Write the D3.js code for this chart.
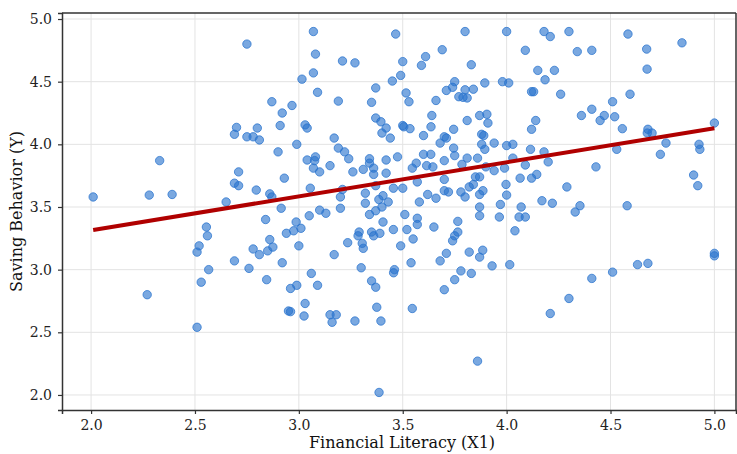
<!DOCTYPE html>
<html>
<head>
<meta charset="utf-8">
<script src="https://cdn.jsdelivr.net/npm/d3@7"></script>
<style>
  body { margin: 0; background: #fff; }
  text { font-family: "DejaVu Serif", serif; }
</style>
</head>
<body>
<div id="chart"></div>
<script>
// Financial literacy (X1) values
var litX = [
  2.75, 3.07, 3.08, 3.21, 3.27, 3.466, 3.50, 3.07, 3.015, 3.09, 3.45, 3.49, 3.37, 2.87, 3.19, 3.35,
  2.967, 2.92, 3.37, 3.395, 3.42, 3.40, 3.44, 2.70, 2.69, 2.80, 2.75, 2.78, 2.81, 2.91, 3.03, 3.04,
  2.99, 3.17,
  3.80, 4.00, 4.18, 4.21, 4.30, 3.69, 3.61, 3.59, 3.83, 4.09, 4.15, 4.23, 4.185, 4.26, 4.12, 4.13,
  3.895, 3.98, 4.01, 3.75, 3.74, 3.71, 3.80, 3.84, 3.77, 3.79, 3.81, 3.516, 3.53, 3.66, 3.64, 3.87,
  3.905, 3.91, 3.81, 3.50, 3.535, 3.505, 3.636, 3.60, 3.745, 3.88, 3.89, 3.70, 3.71, 3.68, 3.745, 3.88,
  3.94, 4.00, 4.03, 4.12, 4.14,
  4.34, 4.41, 4.584, 4.674, 4.844, 4.676, 4.594, 4.51, 4.41, 4.36, 4.47, 4.52, 4.45, 4.557, 4.677, 4.68,
  4.70, 5.00, 4.767, 4.926,
  2.01, 2.33, 2.28, 2.39, 2.65, 2.555, 2.56, 2.52, 2.51, 2.566,
  2.90, 2.71, 2.69, 2.71, 2.795, 2.93, 2.86, 2.87, 2.915, 2.84, 3.04, 3.076, 3.08, 3.07, 3.10, 3.15,
  3.19, 3.22, 3.24, 3.26, 3.31, 3.34, 3.34, 3.36, 3.36, 3.42, 3.42, 3.475, 3.055, 3.21, 3.20, 3.32,
  3.32, 3.37, 3.385, 3.405, 3.40, 3.43, 3.37, 3.34, 3.455, 3.20, 3.10, 3.13, 3.05, 2.987, 3.01, 2.975,
  2.94, 3.00, 2.86, 2.875, 2.85, 2.81, 2.78, 2.69, 2.76, 2.92, 3.06, 3.17, 3.235, 3.285, 3.29, 3.305,
  3.31, 3.35, 3.36, 3.39, 3.405, 3.455, 3.30, 3.456, 3.46,
  3.60, 3.635, 3.546, 3.565, 3.615, 3.645, 3.70, 3.75, 3.785, 3.81, 3.86, 3.895, 3.90, 3.94, 3.99, 4.03,
  4.115, 4.18, 4.20, 4.09, 4.145, 4.12, 4.065, 4.29, 4.17, 4.22, 3.50, 3.57, 3.70, 3.70, 3.72, 3.62,
  3.66, 3.58, 3.78, 3.80, 3.82, 3.84, 3.85, 3.87, 3.886, 3.87, 3.997, 4.00, 3.97, 3.87, 3.87, 3.965,
  4.07, 4.06, 4.09, 4.04, 3.51, 3.57, 3.57, 3.52, 3.65, 3.765, 3.765, 3.75, 3.74, 3.55, 3.49, 3.82,
  3.885, 3.87, 3.71, 3.68, 3.54, 3.93, 4.015, 3.78, 3.83,
  4.43, 4.74, 4.93, 4.90, 4.92, 4.353, 4.33, 4.58, 5.00, 5.00, 4.63, 4.68, 4.51, 4.41, 4.53,
  2.27, 2.53, 2.51, 2.845, 2.96, 2.99, 3.09, 3.03, 2.95, 2.96, 3.025, 3.15, 3.18, 3.16, 3.27, 3.375,
  3.395, 3.35, 3.37, 3.386, 3.546, 3.70, 3.75, 3.86, 4.21, 4.30
];

// Saving behavior (Y) values, same order
var saveY = [
  4.80, 4.90, 4.72, 4.665, 4.65, 4.88, 4.66, 4.57, 4.52, 4.415, 4.505, 4.55, 4.45, 4.34, 4.345, 4.335,
  4.31, 4.25, 4.21, 4.18, 4.13, 4.09, 4.05, 4.135, 4.08, 4.13, 4.06, 4.06, 4.035, 4.15, 4.155, 4.13,
  4.00, 4.05,
  4.90, 4.90, 4.90, 4.86, 4.90, 4.755, 4.70, 4.63, 4.635, 4.75, 4.59, 4.59, 4.515, 4.40, 4.42, 4.42,
  4.49, 4.50, 4.49, 4.50, 4.455, 4.43, 4.435, 4.44, 4.38, 4.375, 4.37, 4.41, 4.34, 4.35, 4.23, 4.23,
  4.24, 4.17, 4.19, 4.15, 4.125, 4.14, 4.14, 4.07, 4.12, 4.08, 4.07, 4.06, 4.05, 4.01, 3.97, 4.00,
  4.01, 3.99, 4.00, 4.12, 4.19,
  4.74, 4.75, 4.88, 4.76, 4.81, 4.60, 4.40, 4.34, 4.28, 4.23, 4.23, 4.22, 4.19, 4.125, 4.09, 4.12,
  4.09, 4.17, 4.01, 4.00,
  3.58, 3.87, 3.595, 3.60, 3.54, 3.34, 3.27, 3.19, 3.14, 3.00,
  3.94, 3.78, 3.69, 3.67, 3.635, 3.73, 3.605, 3.58, 3.49, 3.40, 3.875, 3.87, 3.90, 3.81, 3.78, 3.83,
  3.97, 3.94, 3.885, 3.78, 3.80, 3.885, 3.85, 3.81, 3.76, 3.875, 3.77, 3.90, 3.65, 3.64, 3.58, 3.61,
  3.53, 3.67, 3.56, 3.59, 3.50, 3.54, 3.47, 3.44, 3.65, 3.49, 3.475, 3.45, 3.43, 3.38, 3.33, 3.31,
  3.29, 3.19, 3.24, 3.18, 3.15, 3.12, 3.165, 3.07, 3.01, 3.055, 2.97, 3.12, 3.215, 3.27, 3.30, 3.21,
  3.17, 3.30, 3.27, 3.29, 3.38, 3.32, 3.015, 2.975, 3.00,
  3.92, 3.92, 3.81, 3.85, 3.83, 3.82, 3.87, 3.91, 3.84, 3.89, 3.89, 3.96, 3.82, 3.79, 3.81, 3.89,
  3.96, 3.94, 3.86, 3.835, 3.76, 3.73, 3.73, 3.66, 3.55, 3.53, 3.65, 3.70, 3.72, 3.63, 3.62, 3.60,
  3.57, 3.54, 3.62, 3.58, 3.66, 3.68, 3.74, 3.74, 3.63, 3.60, 3.68, 3.595, 3.52, 3.50, 3.43, 3.42,
  3.50, 3.42, 3.42, 3.31, 3.44, 3.41, 3.36, 3.32, 3.34, 3.385, 3.30, 3.27, 3.23, 3.245, 3.19, 3.14,
  3.155, 3.10, 3.13, 3.07, 3.055, 3.03, 3.04, 2.99, 2.97,
  3.82, 3.92, 3.96, 3.755, 3.67, 3.51, 3.46, 3.51, 3.13, 3.11, 3.04, 3.05, 2.98, 2.93, 3.96,
  2.80, 2.90, 2.54, 2.92, 2.85, 2.875, 2.875, 2.73, 2.67, 2.665, 2.63, 2.64, 2.64, 2.58, 2.59, 2.70,
  2.59, 2.91, 2.86, 2.02, 2.69, 2.84, 2.92, 2.27, 2.65, 2.77
];

// regression line ends
var fitX = [2.01, 5.0];
var fitY = [3.316, 4.128];

var xTicks = [2.0, 2.5, 3.0, 3.5, 4.0, 4.5, 5.0];
var yTicks = [2.0, 2.5, 3.0, 3.5, 4.0, 4.5, 5.0];

var svgWidth = 737;
var svgHeight = 454;
var margin = { top: 13, right: 1, bottom: 44, left: 62 };
var width = svgWidth - margin.left - margin.right;
var height = svgHeight - margin.top - margin.bottom;

var svg = d3.select("#chart")
  .append("svg")
  .attr("width", svgWidth)
  .attr("height", svgHeight);

var g = svg.append("g")
  .attr("transform", `translate(${margin.left}, ${margin.top})`);

var x = d3.scaleLinear().domain([1.86, 5.104]).range([0, width]);
var y = d3.scaleLinear().domain([1.88, 5.048]).range([height, 0]);

// grid
g.append("g")
  .selectAll("line.vgrid")
  .data(xTicks)
  .enter()
  .append("line")
  .attr("x1", d => x(d)).attr("x2", d => x(d))
  .attr("y1", 0).attr("y2", height)
  .attr("stroke", "#e3e3e3").attr("stroke-width", 1);

g.append("g")
  .selectAll("line.hgrid")
  .data(yTicks)
  .enter()
  .append("line")
  .attr("x1", 0).attr("x2", width)
  .attr("y1", d => y(d)).attr("y2", d => y(d))
  .attr("stroke", "#e3e3e3").attr("stroke-width", 1);

// points
var pts = litX.map((v, i) => ({ x: v, y: saveY[i] }));

g.append("g")
  .selectAll("circle")
  .data(pts)
  .enter()
  .append("circle")
  .attr("cx", d => x(d.x))
  .attr("cy", d => y(d.y))
  .attr("r", 4.2)
  .attr("fill", "rgb(40,115,205)")
  .attr("fill-opacity", 0.62)
  .attr("stroke", "rgb(40,115,205)")
  .attr("stroke-opacity", 0.75)
  .attr("stroke-width", 1);

// fitted line
g.append("line")
  .attr("x1", x(fitX[0])).attr("y1", y(fitY[0]))
  .attr("x2", x(fitX[1])).attr("y2", y(fitY[1]))
  .attr("stroke", "#b00000")
  .attr("stroke-width", 4);

// axes
var xAxis = g.append("g")
  .attr("transform", `translate(0, ${height})`)
  .call(d3.axisBottom(x).tickValues(xTicks).tickFormat(d3.format(".1f")).tickSize(4).tickPadding(6));

var yAxis = g.append("g")
  .call(d3.axisLeft(y).tickValues(yTicks).tickFormat(d3.format(".1f")).tickSize(4).tickPadding(6));

[xAxis, yAxis].forEach(function(ax) {
  ax.select(".domain").attr("stroke", "#333").attr("stroke-width", 1.5);
  ax.selectAll(".tick line").attr("stroke", "#333").attr("stroke-width", 1.2);
  ax.selectAll(".tick text")
    .attr("fill", "#222")
    .style("font-size", "14px")
    .style("font-family", "DejaVu Serif, serif");
});

// top and right frame
g.append("line")
  .attr("x1", 0).attr("x2", width).attr("y1", 0).attr("y2", 0)
  .attr("stroke", "#333").attr("stroke-width", 1.5);
g.append("line")
  .attr("x1", width).attr("x2", width).attr("y1", 0).attr("y2", height)
  .attr("stroke", "#333").attr("stroke-width", 1.5);

// labels
svg.append("text")
  .attr("x", margin.left + width / 2 + 3)
  .attr("y", 448)
  .attr("text-anchor", "middle")
  .style("font-size", "16px")
  .attr("fill", "#111")
  .text("Financial Literacy (X1)");

svg.append("text")
  .attr("transform", `translate(22, ${margin.top + height / 2}) rotate(-90)`)
  .attr("text-anchor", "middle")
  .style("font-size", "16px")
  .attr("fill", "#111")
  .text("Saving Behavior (Y)");
</script>
</body>
</html>
